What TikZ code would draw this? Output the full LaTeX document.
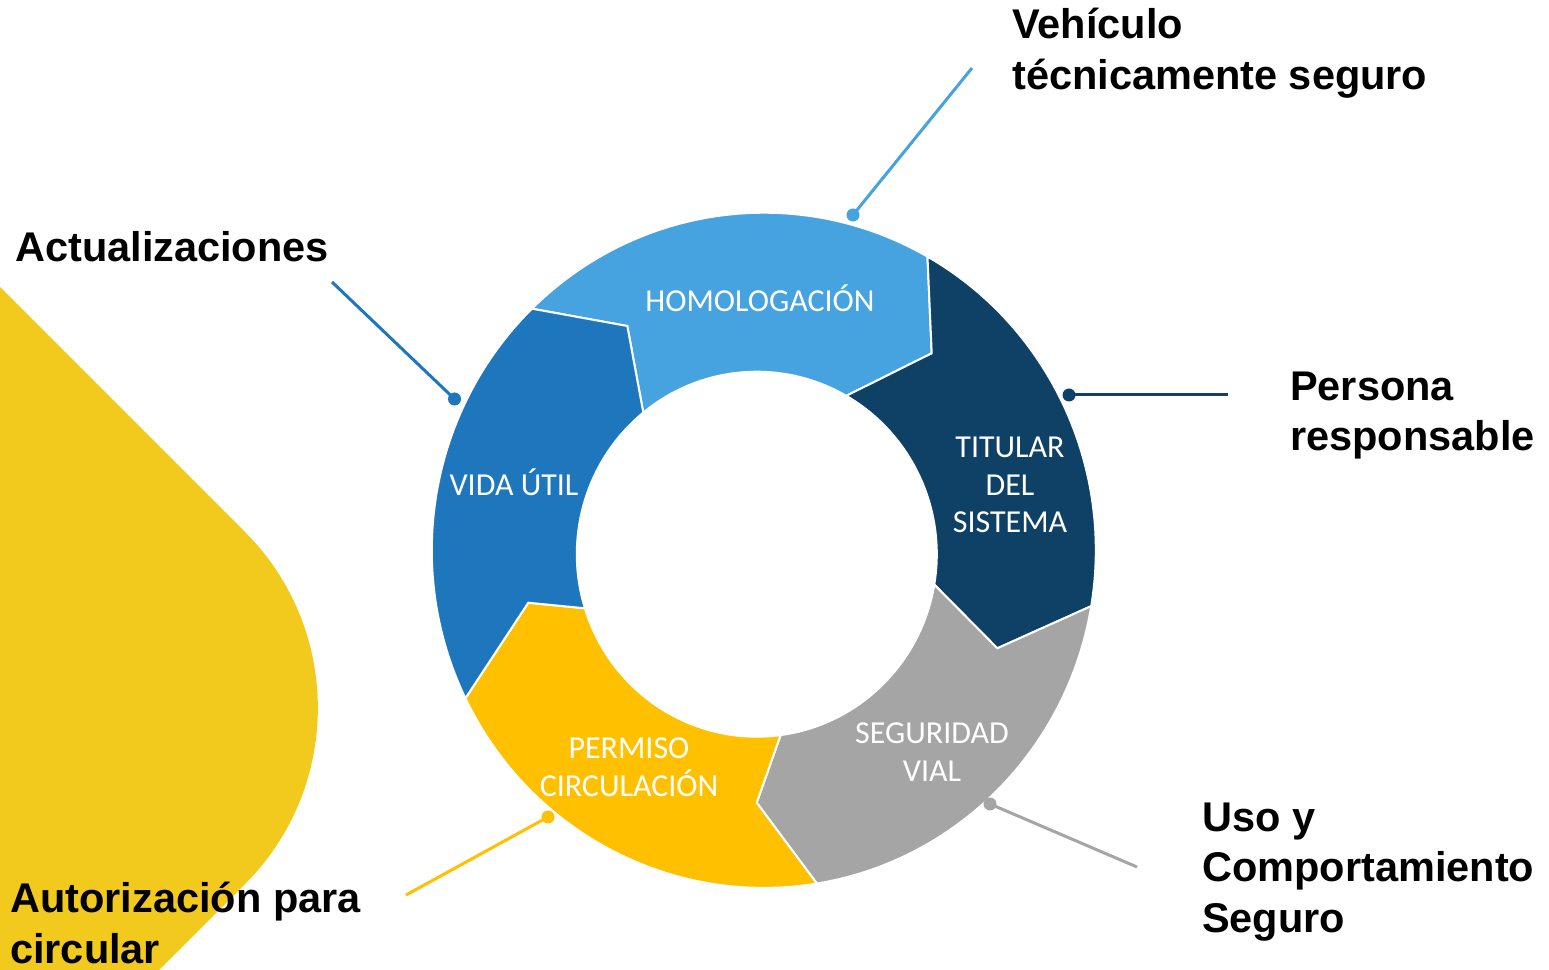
\documentclass[tikz,border=0pt]{standalone}
\usepackage{fontspec}
\setmainfont{Liberation Sans}
\newfontfamily\calfont{Carlito}
\usetikzlibrary{calc}
\definecolor{cLB}{RGB}{71,163,224}
\definecolor{cNV}{RGB}{15,65,102}
\definecolor{cGR}{RGB}{165,165,165}
\definecolor{cYL}{RGB}{255,192,0}
\definecolor{cBL}{RGB}{30,118,189}
\definecolor{cBG}{RGB}{242,202,30}
\begin{document}
\begin{tikzpicture}[x=1pt,y=1pt,
  seg/.style={draw=white, line width=2pt, line join=miter},
  seglabel/.style={font=\calfont\fontsize{32}{37.5}\selectfont, text=white, align=center, inner sep=0pt},
  callout/.style={font=\bfseries\fontsize{41.5}{50.5}\selectfont, align=left, anchor=west, inner sep=0pt},
  conn/.style={line width=3pt},
  dotmark/.style={circle, inner sep=0pt, minimum size=13pt},
]
\useasboundingbox (0,0) rectangle (1549,969);
\clip (0,0) rectangle (1549,969);
\fill[white] (0,0) rectangle (1549,969);
% background yellow shape
\fill[cBG, rounded corners=249pt] (-300,982) -- (421,261) -- (-300,-460) -- cycle;

\coordinate (O) at (763.8,418.7);
\coordinate (I) at (756.8,414.8);
% chevron tips
\coordinate (t1) at (627.3,643);
\coordinate (t2) at (931.7,615.7);
\coordinate (t3) at (997.3,320.7);
\coordinate (t4) at (756.7,166.3);
\coordinate (t5) at (528.3,366.3);

% ring segments
\path[seg, fill=cLB] ($(O)+(134.3:332 and 337.6)$) arc[start angle=134.3, end angle=60.46, x radius=332, y radius=337.6] -- (t2) -- ($(I)+(60.2:180 and 182.5)$) arc[start angle=60.2, end angle=129.1, x radius=180, y radius=182.5] -- (t1) -- cycle;
\path[seg, fill=cNV] ($(O)+(60.46:332 and 337.6)$) arc[start angle=60.46, end angle=-9.52, x radius=332, y radius=337.6] -- (t3) -- ($(I)+(-9.6:180 and 182.5)$) arc[start angle=-9.6, end angle=60.2, x radius=180, y radius=182.5] -- (t2) -- cycle;
\path[seg, fill=cGR] ($(O)+(-9.52:332 and 337.6)$) arc[start angle=-9.52, end angle=-80.8, x radius=332, y radius=337.6] -- (t4) -- ($(I)+(-82.4:180 and 182.5)$) arc[start angle=-82.4, end angle=-9.6, x radius=180, y radius=182.5] -- (t3) -- cycle;
\path[seg, fill=cYL] ($(O)+(-80.8:332 and 337.6)$) arc[start angle=-80.8, end angle=-154, x radius=332, y radius=337.6] -- (t5) -- ($(I)+(-162.75:180 and 182.5)$) arc[start angle=-162.75, end angle=-82.4, x radius=180, y radius=182.5] -- (t4) -- cycle;
\path[seg, fill=cBL] ($(O)+(206:332 and 337.6)$) arc[start angle=206, end angle=134.3, x radius=332, y radius=337.6] -- (t1) -- ($(I)+(129.1:180 and 182.5)$) arc[start angle=129.1, end angle=197.25, x radius=180, y radius=182.5] -- (t5) -- cycle;

% segment labels
\node[seglabel] (lHom) at (760,671) {HOMOLOGACIÓN};
\node[seglabel] (lTit) at (1010,484) {TITULAR\\DEL\\SISTEMA};
\node[seglabel] (lSeg) at (932,217) {SEGURIDAD\\VIAL};
\node[seglabel] (lPer) at (629,202) {PERMISO\\CIRCULACIÓN};
\node[seglabel] (lVid) at (514,487) {VIDA ÚTIL};

% callout texts
\node[callout] (cVeh) at (1012,916) {Vehículo\\técnicamente seguro};
\node[callout] (cAct) at (15,722) {Actualizaciones};
\node[callout] (cPer) at (1290,553.5) {Persona\\responsable};
\node[callout] (cUso) at (1202,97) {Uso y\\Comportamiento\\Seguro};
\node[callout] (cAut) at (10,46) {Autorización para\\circular};

% connectors
\node[dotmark, fill=cLB] (d1) at (853,754) {};
\coordinate (e1) at (972,901);
\node[dotmark, fill=cBL] (d2) at (454.5,570) {};
\coordinate (e2) at (332,687);
\node[dotmark, fill=cNV] (d3) at (1069,574) {};
\coordinate (e3) at (1228,574);
\node[dotmark, fill=cGR] (d4) at (990,165) {};
\coordinate (e4) at (1137,102);
\node[dotmark, fill=cYL] (d5) at (548,152) {};
\coordinate (e5) at (406,74);
\draw[conn, cLB] (d1.center) -- (e1);
\draw[conn, cBL] (d2.center) -- (e2);
\draw[conn, cNV] (d3.center) -- (e3);
\draw[conn, cGR] (d4.center) -- (e4);
\draw[conn, cYL] (d5.center) -- (e5);
\end{tikzpicture}
\end{document}
